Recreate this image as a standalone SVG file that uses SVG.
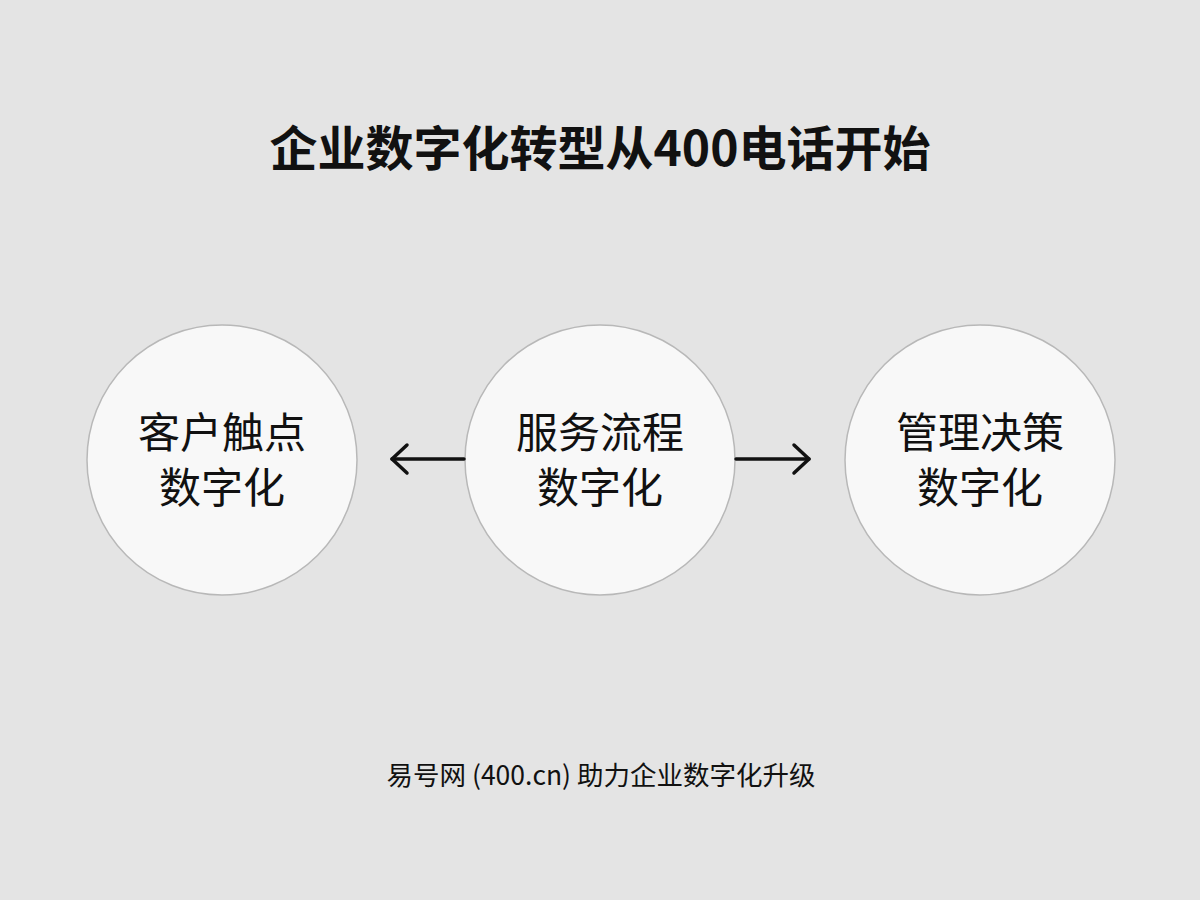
<svg xmlns="http://www.w3.org/2000/svg" width="1200" height="900" viewBox="0 0 1200 900">
<style>
.bg{fill:#e4e4e4}
.node circle{fill:#f8f8f8;stroke:#b8b8b8;stroke-width:1.5}
.lbl{font-family:"Noto Sans CJK SC","Noto Sans",sans-serif;font-size:42px;fill:#111;text-anchor:middle}
.title{font-family:"Noto Sans CJK SC","Noto Sans",sans-serif;font-size:48px;font-weight:bold;fill:#111;text-anchor:middle}
.foot{font-family:"Noto Sans CJK SC","Noto Sans",sans-serif;font-size:26.5px;fill:#111;text-anchor:middle}
.conn line,.conn polyline{stroke:#111;stroke-width:3.5;fill:none;stroke-linecap:round;stroke-linejoin:round}
</style>
<rect class="bg" x="0" y="0" width="1200" height="900"/>
<text class="title" x="600" y="166">企业数字化转型从400电话开始</text>
<g id="node-left" class="node">
<circle cx="222" cy="460" r="135"/>
<text class="lbl" x="222" y="448">客户触点</text>
<text class="lbl" x="222" y="503">数字化</text>
</g>
<g id="node-center" class="node">
<circle cx="600" cy="460" r="135"/>
<text class="lbl" x="600" y="448">服务流程</text>
<text class="lbl" x="600" y="503">数字化</text>
</g>
<g id="node-right" class="node">
<circle cx="980" cy="460" r="135"/>
<text class="lbl" x="980" y="448">管理决策</text>
<text class="lbl" x="980" y="503">数字化</text>
</g>
<g id="connectors" class="conn">
<line x1="464" y1="459" x2="392" y2="459"/>
<polyline points="407,445 392,459 407,473"/>
<line x1="736" y1="459" x2="809" y2="459"/>
<polyline points="794,445 809,459 794,473"/>
</g>
<text class="foot" x="601" y="785">易号网 (400.cn) 助力企业数字化升级</text>
</svg>
